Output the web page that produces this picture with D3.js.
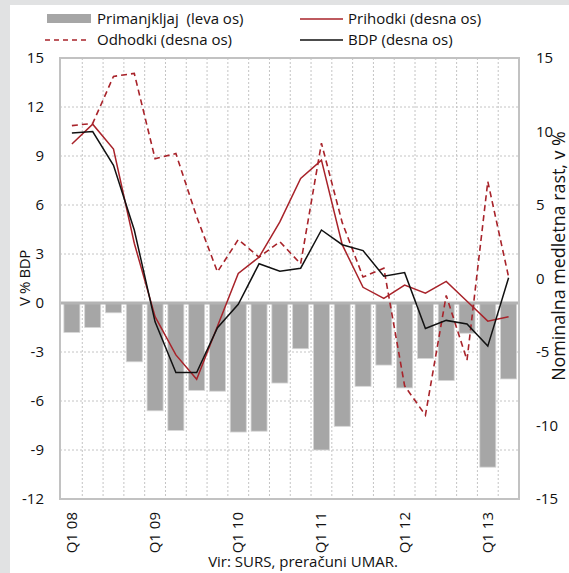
<!DOCTYPE html>
<html><head><meta charset="utf-8">
<script src="https://cdn.jsdelivr.net/npm/d3@7"></script>
<style>
html,body{margin:0;padding:0;background:#fff;}
svg{display:block;font-family:"Open Sans",sans-serif;}
</style></head>
<body>
<svg id="c" width="569" height="573"></svg>
<script>
const categories = ["Q1 08","Q2 08","Q3 08","Q4 08","Q1 09","Q2 09","Q3 09","Q4 09","Q1 10","Q2 10","Q3 10","Q4 10","Q1 11","Q2 11","Q3 11","Q4 11","Q1 12","Q2 12","Q3 12","Q4 12","Q1 13","Q2 13"];
const tickCategories = ["Q1 08","Q1 09","Q1 10","Q1 11","Q1 12","Q1 13"];
const primanjkljaj = [-1.8,-1.5,-0.6,-3.6,-6.6,-7.8,-5.35,-5.4,-7.9,-7.85,-4.9,-2.8,-9.0,-7.55,-5.1,-3.8,-5.2,-3.4,-4.75,-1.85,-10.05,-4.65];
const prihodki = [9.15,10.5,8.8,2.4,-2.6,-5.2,-6.85,-3.25,0.35,1.45,3.85,6.8,8.05,2.3,-0.6,-1.35,-0.45,-1.0,-0.2,-1.55,-2.9,-2.6];
const odhodki = [10.4,10.55,13.75,13.95,8.15,8.5,4.2,0.45,2.65,1.45,2.5,1.0,9.2,3.8,0.1,0.7,-7.3,-9.3,-1.15,-5.55,6.6,0.1];
const bdp = [9.9,10.0,7.7,3.3,-2.95,-6.4,-6.4,-3.35,-1.75,1.0,0.5,0.7,3.3,2.3,1.9,0.15,0.4,-3.4,-2.85,-3.1,-4.6,0.05];
const leftTicks = [15,12,9,6,3,0,-3,-6,-9,-12];
const rightTicks = [15,10,5,0,-5,-10,-15];
const legendLabels = ["Primanjkljaj  (leva os)","Prihodki (desna os)","Odhodki (desna os)","BDP (desna os)"];
const leftTitle = "V % BDP";
const rightTitle = "Nominalna medletna rast, v %";
const sourceText = "Vir: SURS, preračuni UMAR.";

const svg = d3.select("#c");
const W = 569, H = 573;
const P = {l:60, r:519, t:58, b:499};
const RED = "#a8232a", GRAY_BAR = "#a6a6a6", GRID = "#c4c4c4";

// outer frame
svg.append("rect").attr("x",0).attr("y",0).attr("width",W).attr("height",H).attr("fill","#e1e2e3");
svg.append("rect").attr("x",10).attr("y",5).attr("width",W-10).attr("height",H-5).attr("fill","#fff");

const x = d3.scaleBand().domain(categories).range([P.l+1.5, P.r]).paddingInner(0.23).paddingOuter(0.115);
const xc = d => x(d) + x.bandwidth()/2;
const yL = d3.scaleLinear().domain([-12,15]).range([P.b,P.t]);
const yR = d3.scaleLinear().domain([-15,15]).range([P.b,P.t]);

// grid
const g = svg.append("g");
const step = x.step();
categories.forEach((c,i)=>{
  if(i===categories.length-1) return;
  const gx = xc(c) + step/2;
  g.append("line").attr("x1",gx).attr("x2",gx).attr("y1",P.t).attr("y2",P.b)
    .attr("stroke",GRID).attr("stroke-width",1).attr("stroke-dasharray","2,2");
});
leftTicks.forEach(t=>{
  if(t===15||t===-12||t===0) return;
  g.append("line").attr("x1",P.l).attr("x2",P.r).attr("y1",yL(t)).attr("y2",yL(t))
    .attr("stroke",GRID).attr("stroke-width",1).attr("stroke-dasharray","2,2");
});

// bars
svg.append("g").selectAll("rect").data(primanjkljaj).join("rect")
  .attr("x",(d,i)=>x(categories[i]))
  .attr("width",x.bandwidth())
  .attr("y",d=>yL(Math.max(0,d)))
  .attr("height",d=>Math.abs(yL(d)-yL(0)))
  .attr("fill",GRAY_BAR).attr("stroke","#d6d6d6").attr("stroke-width",0.8);

// zero line
svg.append("line").attr("x1",P.l).attr("x2",P.r).attr("y1",yL(0)).attr("y2",yL(0))
  .attr("stroke","#b3b3b3").attr("stroke-width",3);

// border
svg.append("rect").attr("x",P.l).attr("y",P.t).attr("width",P.r-P.l).attr("height",P.b-P.t)
  .attr("fill","none").attr("stroke","#c2c2c2").attr("stroke-width",2);

// lines
const line = d3.line().x((d,i)=>xc(categories[i])).y(d=>yR(d));
svg.append("path").datum(odhodki).attr("d",line).attr("fill","none").attr("stroke",RED)
  .attr("stroke-width",1.6).attr("stroke-dasharray","6,4");
svg.append("path").datum(prihodki).attr("d",line).attr("fill","none").attr("stroke",RED).attr("stroke-width",1.5);
svg.append("path").datum(bdp).attr("d",line).attr("fill","none").attr("stroke","#111").attr("stroke-width",1.5);

// axes labels
const fs = 15;
svg.append("g").selectAll("text").data(leftTicks).join("text")
  .attr("x",44).attr("y",d=>yL(d)).attr("dy","0.35em").attr("text-anchor","end")
  .attr("font-size",fs).attr("fill","#111").text(d=>d);
svg.append("g").selectAll("text").data(rightTicks).join("text")
  .attr("x",536).attr("y",d=>yR(d)).attr("dy","0.35em").attr("text-anchor","start")
  .attr("font-size",fs).attr("fill","#111").text(d=>d);
svg.append("g").selectAll("text").data(tickCategories).join("text")
  .attr("transform",d=>`translate(${xc(d)+5},512) rotate(-90)`)
  .attr("text-anchor","end").attr("font-size",fs).attr("fill","#111").text(d=>d);

svg.append("text").attr("transform","translate(30,278) rotate(-90)").attr("text-anchor","middle")
  .attr("font-size",15).attr("fill","#111").attr("letter-spacing","-0.4").text(leftTitle);
const rt = svg.append("text").attr("transform","translate(565,256) rotate(-90)").attr("text-anchor","middle")
  .attr("font-size",17).attr("fill","#111").text(rightTitle);
const rlen = rt.node().getComputedTextLength();
rt.attr("font-size", 17*250/rlen);
svg.append("text").attr("x",303).attr("y",567).attr("text-anchor","middle")
  .attr("font-size",fs).attr("fill","#111").text(sourceText);

// legend
const lg = svg.append("g");
lg.append("rect").attr("x",47).attr("y",14).attr("width",44).attr("height",9).attr("fill",GRAY_BAR);
lg.append("text").attr("x",97).attr("y",19).attr("dy","0.35em").attr("font-size",fs).attr("fill","#111").attr("xml:space","preserve").text(legendLabels[0]);
lg.append("line").attr("x1",300).attr("x2",343).attr("y1",19).attr("y2",19).attr("stroke",RED).attr("stroke-width",1.5);
lg.append("text").attr("x",348).attr("y",19).attr("dy","0.35em").attr("font-size",fs).attr("fill","#111").text(legendLabels[1]);
lg.append("line").attr("x1",45).attr("x2",88).attr("y1",40).attr("y2",40).attr("stroke",RED).attr("stroke-width",1.5).attr("stroke-dasharray","5,4");
lg.append("text").attr("x",97).attr("y",40).attr("dy","0.35em").attr("font-size",fs).attr("fill","#111").text(legendLabels[2]);
lg.append("line").attr("x1",300).attr("x2",343).attr("y1",40).attr("y2",40).attr("stroke","#111").attr("stroke-width",1.5);
lg.append("text").attr("x",348).attr("y",40).attr("dy","0.35em").attr("font-size",fs).attr("fill","#111").text(legendLabels[3]);
</script>
</body></html>
